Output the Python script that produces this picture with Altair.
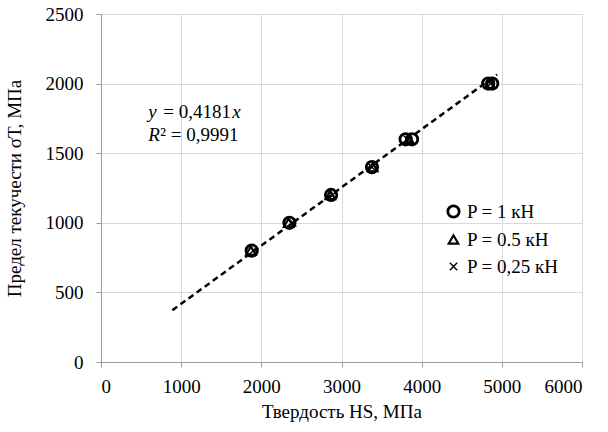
import altair as alt
import pandas as pd

# ---- data ----
series_names = ["P = 1 кН", "P = 0.5 кН", "P = 0,25 кН"]

p1_x = [1880, 2350, 2870, 3380, 3800, 3880, 4830, 4880]
p1_y = [800, 1000, 1200, 1400, 1600, 1600, 2000, 2000]

p05_x = [1870, 2340, 2860, 3390, 3840, 4850]
p05_y = [800, 1000, 1200, 1400, 1600, 2000]

p025_x = [1900, 2390, 2890, 3380, 3820, 4860]
p025_y = [800, 1000, 1200, 1400, 1600, 2000]

trend_x = [890, 4940]
trend_y = [372, 2065]

x_ticks = [0, 1000, 2000, 3000, 4000, 5000, 6000]
y_ticks = [0, 500, 1000, 1500, 2000, 2500]

eq_pos_x = [590]
eq_pos_y = [1795, 1630]

FONT = "Liberation Serif"

rows = []
for xs, ys, name in [(p1_x, p1_y, series_names[0]),
                     (p05_x, p05_y, series_names[1]),
                     (p025_x, p025_y, series_names[2])]:
    for a, b in zip(xs, ys):
        rows.append({"x": a, "y": b, "series": name})
pts = pd.DataFrame(rows)
trend = pd.DataFrame({"x": trend_x, "y": trend_y})

xscale = alt.Scale(domain=[0, 6000], nice=False)
yscale = alt.Scale(domain=[0, 2500], nice=False)

common_axis = dict(
    format="d", labelFont=FONT, titleFont=FONT, labelFontSize=19, titleFontSize=19,
    labelColor="black", titleColor="black", titleFontWeight="normal",
    gridColor="#d9d9d9", gridWidth=1, domainColor="#9a9a9a", tickColor="#9a9a9a",
    tickSize=5,
)
xaxis = alt.Axis(values=x_ticks, title="Твердость HS, МПа", labelPadding=10,
                 titlePadding=6, **common_axis)
yaxis = alt.Axis(values=y_ticks, title="Предел текучести σТ, МПа", labelPadding=13,
                 titlePadding=21, **common_axis)

line = alt.Chart(trend).mark_line(color="black", strokeWidth=2.5, strokeDash=[6, 4]).encode(
    x=alt.X("x:Q", scale=xscale, axis=xaxis),
    y=alt.Y("y:Q", scale=yscale, axis=yaxis),
)

shape_range = ["circle", "triangle-up", "M-1,-1L1,1M-1,1L1,-1"]
leg = alt.Legend(title=None, orient="none", legendX=343, legendY=188, labelFont=FONT,
                 labelFontSize=19, labelColor="black", rowPadding=7, padding=0,
                 symbolStrokeColor="black", symbolFillColor="transparent", labelOffset=4)
points = alt.Chart(pts).mark_point(filled=False, color="black", opacity=1).encode(
    x=alt.X("x:Q", scale=xscale, axis=xaxis),
    y=alt.Y("y:Q", scale=yscale, axis=yaxis),
    shape=alt.Shape("series:N", scale=alt.Scale(domain=series_names, range=shape_range), legend=leg),
    size=alt.Size("series:N", scale=alt.Scale(domain=series_names, range=[130, 55, 150]), legend=leg),
    strokeWidth=alt.StrokeWidth("series:N", scale=alt.Scale(domain=series_names, range=[2.8, 1.4, 1.4]),
                                legend=leg),
)

eq1 = pd.DataFrame({"x": eq_pos_x, "y": [eq_pos_y[0]]})
eq2 = pd.DataFrame({"x": eq_pos_x, "y": [eq_pos_y[1]]})

def txt(df, s, italic=False, dx=0):
    kw = dict(text=s, font=FONT, fontSize=19, align="left", baseline="middle", dx=dx, color="black")
    if italic:
        kw["fontStyle"] = "italic"
    return alt.Chart(df).mark_text(**kw).encode(
        x=alt.X("x:Q", scale=xscale), y=alt.Y("y:Q", scale=yscale))

texts = [
    txt(eq1, "y", True, 0),
    txt(eq1, "= 0,4181", False, 15),
    txt(eq1, "x", True, 84),
    txt(eq2, "R", True, 0),
    txt(eq2, "² = 0,9991", False, 12),
]

chart = alt.layer(line, points, *texts).properties(
    width=481, height=348,
    view=alt.ViewBackground(stroke="#9a9a9a", strokeWidth=1),
)

chart.save("out.html", embed_options={"renderer": "svg", "actions": False})
